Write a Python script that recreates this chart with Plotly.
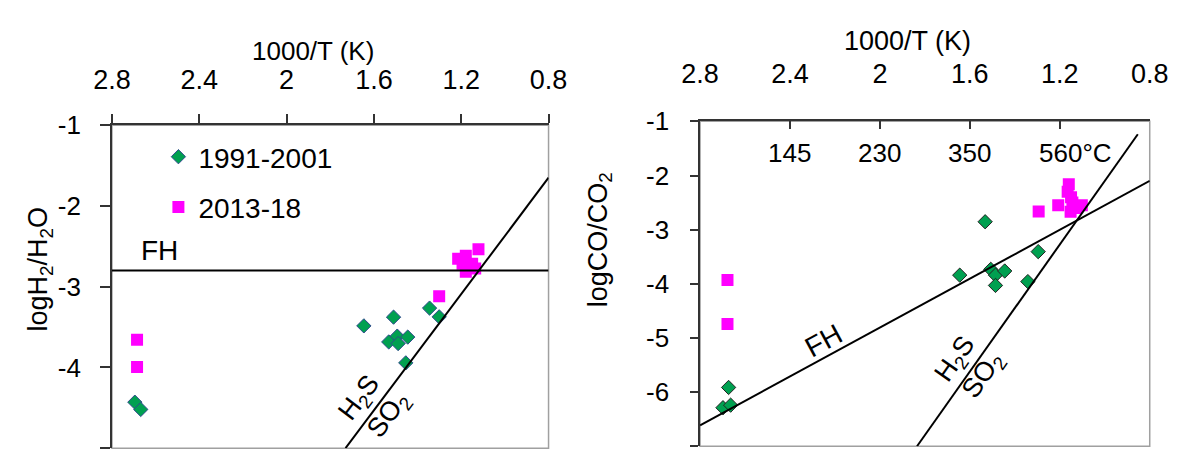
import plotly.graph_objects as go

# ---------------- data ----------------
# Left panel: log H2/H2O vs 1000/T
l_old_x = [2.695, 2.668, 1.646, 1.510, 1.532, 1.493, 1.489, 1.445, 1.454, 1.345, 1.301]
l_old_y = [-4.43, -4.52, -3.485, -3.377, -3.684, -3.612, -3.704, -3.624, -3.943, -3.265, -3.373]
l_new_x = [2.685, 2.685, 1.301, 1.121, 1.214, 1.179, 1.150, 1.179, 1.136, 1.194]
l_new_y = [-3.656, -3.995, -3.118, -2.535, -2.655, -2.615, -2.715, -2.815, -2.775, -2.715]

# Right panel: log CO/CO2 vs 1000/T
r_old_x = [1.532, 1.645, 1.507, 1.486, 1.486, 1.445, 1.342, 1.296, 2.673, 2.698, 2.664]
r_old_y = [-2.854, -3.840, -3.733, -3.840, -4.030, -3.763, -3.959, -3.406, -5.914, -6.288, -6.241]
r_new_x = [2.678, 2.678, 1.294, 1.160, 1.165, 1.150, 1.207, 1.144, 1.127, 1.102, 1.152]
r_new_y = [-3.929, -4.743, -2.664, -2.16, -2.30, -2.40, -2.55, -2.50, -2.60, -2.55, -2.67]

# Buffer lines (end points)
l_fh_x, l_fh_y = [2.8, 0.8], [-2.8, -2.8]
l_hs_x, l_hs_y = [1.73, 0.8], [-5.0, -1.65]
r_fh_x, r_fh_y = [2.8, 0.8], [-6.615, -2.099]
r_hs_x, r_hs_y = [1.835, 0.853], [-7.0, -1.238]

x_ticks = [2.8, 2.4, 2.0, 1.6, 1.2, 0.8]
x_ticktext = ["2.8", "2.4", "2", "1.6", "1.2", "0.8"]
l_y_ticks = [-1, -2, -3, -4, -5]
r_y_ticks = [-1, -2, -3, -4, -5, -6, -7]

temp_labels = ["145", "230", "350", "560°C"]
temp_x = [2.4, 2.0, 1.6, 1.13]

series_names = ["1991-2001", "2013-18"]

# ---------------- style ----------------
FONT = "Liberation Sans, Arial, sans-serif"
GREEN = "#00A050"
MAGENTA = "#FF00FF"
AX = "#333333"

fig = go.Figure()
fig.add_trace(go.Scatter(x=l_old_x, y=l_old_y, mode="markers", name=series_names[0],
                         legendgroup="a", xaxis="x", yaxis="y",
                         marker=dict(symbol="diamond", size=11, color=GREEN,
                                     line=dict(color="#2E4A8C", width=1))))
fig.add_trace(go.Scatter(x=l_new_x, y=l_new_y, mode="markers", name=series_names[1],
                         legendgroup="b", xaxis="x", yaxis="y",
                         marker=dict(symbol="square", size=12, color=MAGENTA)))
fig.add_trace(go.Scatter(x=r_old_x, y=r_old_y, mode="markers", name=series_names[0],
                         showlegend=False, xaxis="x2", yaxis="y2",
                         marker=dict(symbol="diamond", size=11, color=GREEN,
                                     line=dict(color="#222222", width=1))))
fig.add_trace(go.Scatter(x=r_new_x, y=r_new_y, mode="markers", name=series_names[1],
                         showlegend=False, xaxis="x2", yaxis="y2",
                         marker=dict(symbol="square", size=12, color=MAGENTA)))
for xs, ys, xa, ya in [(l_fh_x, l_fh_y, "x", "y"), (l_hs_x, l_hs_y, "x", "y"),
                       (r_fh_x, r_fh_y, "x2", "y2"), (r_hs_x, r_hs_y, "x2", "y2")]:
    fig.add_trace(go.Scatter(x=xs, y=ys, mode="lines", showlegend=False, hoverinfo="skip",
                             xaxis=xa, yaxis=ya, line=dict(color="black", width=2)))

W, H = 1191, 454
def px(x): return x / W
def py(y): return (H - y) / H

common_x = dict(side="top", range=[2.8, 0.8], tickvals=x_ticks, ticktext=x_ticktext,
                showline=True, linecolor=AX, linewidth=1.5, tickcolor=AX, tickwidth=1.5,
                showgrid=False, zeroline=False,
                tickfont=dict(family=FONT, size=27, color="black"))
common_y = dict(showline=True, linecolor=AX, linewidth=1.5, tickcolor=AX, tickwidth=1.5,
                ticks="outside", showgrid=False, zeroline=False,
                tickfont=dict(family=FONT, size=26, color="black"))

fig.update_layout(
    width=W, height=H, margin=dict(l=0, r=0, t=0, b=0),
    paper_bgcolor="white", plot_bgcolor="white",
    font=dict(family=FONT, color="black"),
    xaxis=dict(domain=[px(96), px(547)], anchor="y", ticks="outside", ticklen=9,
               ticklabelstandoff=15, **common_x),
    yaxis=dict(domain=[py(448), py(114)], anchor="x", range=[-5, -1],
               tickvals=l_y_ticks, ticktext=[str(v) for v in l_y_ticks], ticklen=10,
               ticklabelstandoff=14, **common_y),
    xaxis2=dict(domain=[px(703.5), px(1168)], anchor="y2", ticks="inside", ticklen=8,
                ticklabelstandoff=26, **common_x),
    yaxis2=dict(domain=[py(446), py(110)], anchor="x2", range=[-7, -1],
                tickvals=r_y_ticks, ticktext=[str(v) for v in r_y_ticks], ticklen=8,
                ticklabelstandoff=16, **common_y),
    legend=dict(x=px(144), y=py(121), xanchor="left", yanchor="top",
                font=dict(family=FONT, size=28, color="black"),
                traceorder="grouped", tracegroupgap=11, bgcolor="rgba(0,0,0,0)"),
    showlegend=True,
)

# gray frame (right / bottom edges)
for xr, yr in [("x domain", "y domain"), ("x2 domain", "y2 domain")]:
    fig.add_shape(type="rect", xref=xr, yref=yr, x0=0, x1=1, y0=0, y1=1,
                  line=dict(color="#A0A0A0", width=1.5), layer="below")

ann = []
def txt(text, x, y, xref="paper", yref="paper", size=26, angle=0, xanchor="center"):
    ann.append(dict(text=text, x=x, y=y, xref=xref, yref=yref, showarrow=False,
                    textangle=angle, xanchor=xanchor, yanchor="middle",
                    font=dict(family=FONT, size=size, color="black")))

txt("1000/T (K)", px(304), py(37), size=26)
txt("1000/T (K)", px(918), py(27), size=27)
txt("logH<sub>2</sub>/H<sub>2</sub>O", px(22), py(263), size=27, angle=-90)
txt("logCO/CO<sub>2</sub>", px(600), py(232), size=27, angle=-90)

txt("FH", 2.58, -2.55, "x", "y", size=28)
txt("H<sub>2</sub>S", 1.665, -4.386, "x", "y", size=27, angle=-53)
txt("SO<sub>2</sub>", 1.529, -4.585, "x", "y", size=27, angle=-53)
txt("FH", 2.249, -5.05, "x2", "y2", size=28, angle=-28.5)
txt("H<sub>2</sub>S", 1.663, -5.405, "x2", "y2", size=27, angle=-55)
txt("SO<sub>2</sub>", 1.539, -5.70, "x2", "y2", size=27, angle=-55)
for t, xv in zip(temp_labels, temp_x):
    txt(t, xv, -1.59, "x2", "y2", size=26)

fig.update_layout(annotations=ann)
fig.write_html("out.html")
